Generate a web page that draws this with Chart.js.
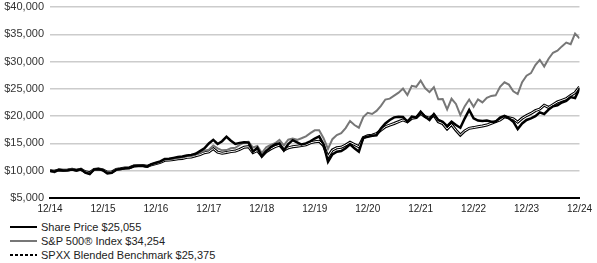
<!DOCTYPE html>
<html>
<head>
<meta charset="utf-8">
<script src="https://cdn.jsdelivr.net/npm/chart.js@4.4.1/dist/chart.umd.min.js"></script>
<style>
body{margin:0;background:#fff;font-family:"Liberation Sans",Arial,sans-serif;}
#wrap{position:relative;width:597px;height:263px;overflow:hidden;}
#chart1{position:absolute;left:0;top:0;}
#legend{position:absolute;left:10px;top:220px;font-size:11px;color:#222;}
.item{height:14px;line-height:14px;display:flex;align-items:center;white-space:nowrap;}
.swatch{width:27px;height:2px;margin-right:4px;}
</style>
</head>
<body>
<div id="wrap">
  <canvas id="chart1" width="597" height="219"></canvas>
  <div id="legend"></div>
</div>
<script>
// tick labels on the x axis, one every 12 months
tickLabels = ['12/14','12/15','12/16','12/17','12/18','12/19','12/20','12/21','12/22','12/23','12/24']
seriesNames = ['Share Price $25,055','S&P 500\u00AE Index $34,254','SPXX Blended Benchmark $25,375']

// monthly values, 12/14 .. 12/24 (growth of $10,000)
sharePrice = [10000,
  9800,10150,10050,10100,10200,10050,10300,9650,9400,10250,10300,10100,
  9500,9600,10200,10300,10450,10500,10850,10900,10900,10750,11200,11450,
  11700,12150,12200,12350,12500,12600,12800,12900,13100,13600,14100,15000,
  15650,14900,15400,16230,15500,14900,15100,15200,15150,13500,14200,12600,
  13600,14300,14800,15000,13700,14900,15600,15200,14800,15000,15400,15900,
  16300,14800,11650,13000,13480,13600,14100,14840,14100,13480,16050,16230,
  16420,16500,17730,18650,19300,19780,19900,19850,18980,19900,19740,20810,
  19900,19300,20390,19300,18980,18190,18980,18370,17880,19600,21120,19600,
  19180,19120,19180,18980,18980,19740,20030,19600,18980,17640,18650,19300,
  19600,20000,20700,20400,21200,21800,22000,22500,22800,23500,23300,25055]

sp500 = [10000,
  9700,10258,10096,10193,10324,10124,10337,9714,9474,10274,10305,10142,
  9639,9626,10279,10319,10505,10532,10921,10936,10938,10739,11136,11357,
  11573,12032,12047,12171,12343,12419,12675,12714,12976,13278,13686,13838,
  14631,14091,13733,13785,14117,14205,14733,15213,15300,14253,14544,13231,
  14291,14750,15036,15645,14652,15685,15911,15660,15953,16299,16891,17401,
  17394,15962,13991,15785,16536,16865,17816,19097,18371,17882,19840,20602,
  20394,20957,21875,23043,23204,23745,24310,25049,23884,25558,25382,26519,
  25148,24396,25301,23095,23137,21228,23185,22239,20191,21826,23046,21719,
  23083,22520,23346,23710,23812,25386,26201,25784,24554,24038,26233,27424,
  27885,29374,30320,29083,30525,31621,32007,32785,33487,33182,35130,34254]

benchmark = [10000,
  9900,10150,10100,10150,10250,10100,10250,9800,9650,10250,10300,10150,
  9700,9750,10250,10350,10500,10550,10850,10900,10950,10800,11100,11300,
  11550,11900,11950,12050,12200,12250,12450,12500,12750,12950,13300,13450,
  14050,13400,13200,13350,13500,13600,13900,14300,14400,13300,13700,12700,
  13500,14000,14400,14700,13800,14200,14400,14500,14600,14750,15100,15300,
  15400,14600,12570,13800,14200,14300,14700,15200,14800,14400,16050,16400,
  16500,16800,17430,18060,18370,18650,18980,19300,18980,19600,19740,20510,
  19900,19600,20200,18980,18650,17640,18470,17430,16540,17300,17770,17900,
  18060,18200,18370,18680,19000,19290,19900,19700,19500,18900,19600,20100,
  20500,21000,21300,22000,21600,22100,22600,22900,23200,23800,24300,25375]

function pts(arr){ return arr.map((v,i)=>({x:i,y:v})) }

// white stroke inside the benchmark line, so it looks hollow like the original
hollowLine = {
  id:'hollowLine',
  afterDatasetDraw(chart,args){
    if(args.index!==2) return
    var p = args.meta.data, ctx = chart.ctx
    ctx.save()
    ctx.strokeStyle = '#fff'
    ctx.lineWidth = 1
    ctx.lineJoin = 'round'
    ctx.beginPath()
    p.forEach((d,i)=>{ i ? ctx.lineTo(d.x,d.y) : ctx.moveTo(d.x,d.y) })
    ctx.stroke()
    ctx.restore()
  }
}

Chart.defaults.font.family = '"Liberation Sans", Arial, sans-serif'

var ctx = document.getElementById('chart1').getContext('2d')
var myChart = new Chart(ctx,{
  type:'line',
  data:{
    datasets:[
      {label:seriesNames[0],data:pts(sharePrice),borderColor:'#000',borderWidth:2.5,pointRadius:0,tension:0},
      {label:seriesNames[1],data:pts(sp500),borderColor:'#777',borderWidth:2,pointRadius:0,tension:0},
      {label:seriesNames[2],data:pts(benchmark),borderColor:'#000',borderWidth:3,pointRadius:0,tension:0}
    ]
  },
  options:{
    responsive:false,
    animation:false,
    layout:{padding:{top:7,right:12,left:0,bottom:0}},
    plugins:{legend:{display:false},tooltip:{enabled:false}},
    scales:{
      x:{
        type:'linear',min:0,max:120,
        grid:{display:false,drawTicks:false},
        border:{display:true,color:'#000',width:2},
        ticks:{stepSize:12,autoSkip:false,maxRotation:0,color:'#222',font:{size:10},padding:5,
          callback:(v)=>tickLabels[v/12]},
        afterFit:(s)=>{s.height=21}
      },
      y:{
        min:5000,max:40000,
        grid:{color:'#cccccc',lineWidth:1.5,drawTicks:false},
        border:{display:false},
        ticks:{stepSize:5000,color:'#333',font:{size:11},padding:6,
          callback:(v)=>'$'+v.toLocaleString('en-US')},
        afterFit:(s)=>{s.width=50;s.paddingTop=7;s.paddingBottom=0}
      }
    }
  },
  plugins:[hollowLine]
})

// legend below the chart, one row per series
swatches = [
  'background:#000;height:2px',
  'background:#777;height:2px',
  'background:repeating-linear-gradient(90deg,#000 0 3px,transparent 3px 5px);height:2px'
]
legend.innerHTML = seriesNames.map((n,i)=>
  '<div class="item"><span class="swatch" style="'+swatches[i]+'"></span>'+n+'</div>').join('')
</script>
</body>
</html>
